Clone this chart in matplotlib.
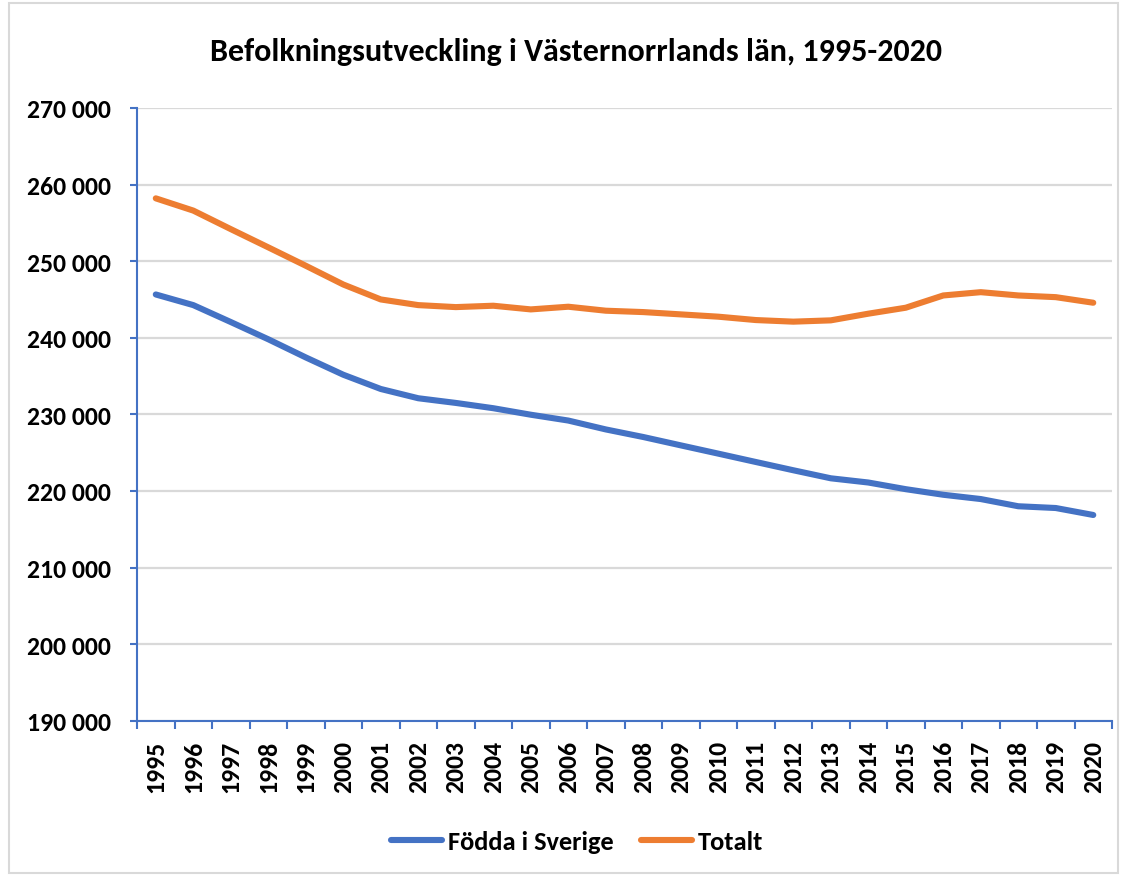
import matplotlib
matplotlib.use("Agg")
import matplotlib.pyplot as plt
from matplotlib.patches import Rectangle
from matplotlib.ticker import FuncFormatter, FixedLocator

plt.rcParams['font.family'] = ['Carlito', 'Liberation Sans Narrow', 'DejaVu Sans']

# Data
years = [str(y) for y in range(1995, 2021)]
fodda_i_sverige = [245650, 244260, 242050, 239800, 237430, 235170, 233310, 232100,
                   231490, 230800, 229950, 229190, 228030, 227040, 225950, 224870,
                   223780, 222700, 221650, 221100, 220230, 219500, 218940, 218000,
                   217770, 216860]
totalt = [258200, 256600, 254180, 251800, 249400, 246950, 245000, 244260,
          244000, 244180, 243700, 244050, 243530, 243350, 243050, 242750,
          242310, 242100, 242270, 243140, 243920, 245520, 245950, 245520,
          245300, 244570]
series_names = ["Födda i Sverige", "Totalt"]
title = "Befolkningsutveckling i Västernorrlands län, 1995-2020"

blue = "#4472C4"
orange = "#ED7D31"
grid_col = "#D9D9D9"

fig = plt.figure(figsize=(11.27, 8.78), dpi=100)
ax = fig.add_axes([0.1216, 0.178, 0.8651, 0.6979])

x = list(range(len(years)))
ax.plot(x, fodda_i_sverige, color=blue, lw=4.4, solid_capstyle='round',
        solid_joinstyle='round', label=series_names[0], zorder=3)
ax.plot(x, totalt, color=orange, lw=4.4, solid_capstyle='round',
        solid_joinstyle='round', label=series_names[1], zorder=3)

ax.set_xlim(-0.5, len(years) - 0.5)
ax.set_ylim(190000, 270000)
ax.set_yticks(range(190000, 270001, 10000))
ax.yaxis.set_major_formatter(FuncFormatter(lambda v, p: f"{int(v):,}".replace(",", " ")))
ax.grid(axis='y', color=grid_col, lw=1.6, zorder=0)

# category labels at centres, tick marks between categories
ax.set_xticks(x)
ax.set_xticklabels(years, rotation=90, fontsize=18.5, fontweight='bold')
ax.xaxis.set_minor_locator(FixedLocator([i - 0.5 for i in range(len(years) + 1)]))
ax.tick_params(axis='x', which='major', length=0, pad=14)
ax.tick_params(axis='x', which='minor', length=6, width=1.5, color=blue, direction='out')
ax.tick_params(axis='y', length=5, width=1.5, color=blue, labelsize=18.5, pad=14)
for lab in ax.get_yticklabels():
    lab.set_fontweight('bold')

for side in ['top', 'right']:
    ax.spines[side].set_visible(False)
for side in ['left', 'bottom']:
    ax.spines[side].set_color(blue)
    ax.spines[side].set_linewidth(1.5)

fig.text(0.511, 0.941, title, ha='center', va='center', fontsize=23, fontweight='bold')

leg = fig.legend(loc='center', bbox_to_anchor=(0.512, 0.04), ncol=2, frameon=False,
                 prop={'size': 19, 'weight': 'bold'}, handlelength=1.95,
                 handletextpad=0.2, columnspacing=1.05)

fig.patches.append(Rectangle((0.008, 0.005), 0.984, 0.99, transform=fig.transFigure,
                             fill=False, edgecolor=grid_col, lw=1.5))

fig.savefig("out.png", dpi=100)
